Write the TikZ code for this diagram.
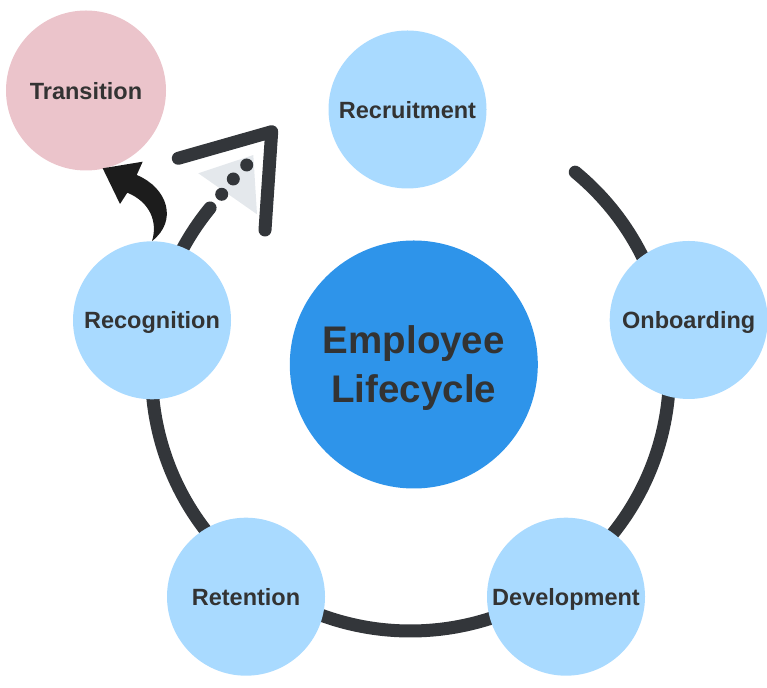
\documentclass[tikz,border=0pt]{standalone}
\usepackage{fontspec}
\setmainfont{Liberation Sans}
\usepackage{tikz}

\definecolor{azzurro}{HTML}{A9DAFF}
\definecolor{blu}{HTML}{2E94EA}
\definecolor{rosa}{HTML}{EBC4CB}
\definecolor{anello}{HTML}{33363A}
\definecolor{testo}{HTML}{333333}
\definecolor{freccia}{HTML}{1C1C1C}
\definecolor{grigio}{HTML}{E4E8EC}

\tikzset{
  fase/.style={circle, fill=azzurro, minimum size=158pt, inner sep=0pt, text=testo,
    text depth=0pt, font=\fontsize{23.5}{28}\selectfont\bfseries},
  tratto/.style={anello, line width=13pt, line cap=round, line join=round},
}

\begin{document}
\begin{tikzpicture}[x=1pt, y=1pt]
			\useasboundingbox (0, 0) rectangle (767, 687);
			% anello
			\coordinate (o) at (410.5, 315);
			\draw[tratto] (o) ++(50.5:259) arc[start angle=50.5, end angle=-219.3, radius=259];
			% punta
			\fill[grigio] (198.3, 513.7) -- (253.3, 532) -- (257, 472.7) -- cycle;
			\fill[anello] (221.7, 492.7) circle [radius=6.5];
			\fill[anello] (233.3, 508) circle [radius=6.5];
			\fill[anello] (246.7, 522) circle [radius=6.5];
			\draw[tratto] (178.3, 528.7) -- (271.7, 555.3) -- (265, 457);
			% fasi
			\node[fase] (recruit) at (407.5, 577.5) {Recruitment};
			\node[fase] (onboard) at (688.7, 367) {Onboarding};
			\node[fase] (develop) at (566, 90.3) {Development};
			\node[fase] (retain) at (246, 90.3) {Retention};
			\node[fase] (recog) at (152, 366.7) {Recognition};
			\node[fase, fill=rosa, minimum size=160pt] (trans) at (86, 596.5) {Transition};
			% centro
			\node[circle, fill=blu, minimum size=248pt, inner sep=0pt, text=testo, align=center, text depth=0pt,
			  font=\fontsize{38.5}{49}\selectfont\bfseries] (life) at (413.8, 322.5) {Employee\\Lifecycle};
			% freccia verso transition
			\coordinate (coda) at (recog.north);
			\fill[freccia] (102.7, 518.7) -- (142.7, 525.3) -- (136.7, 512)
			  .. controls (168, 499) and (178, 466) .. (coda)
			  .. controls (158, 465) and (150, 485) .. (127.3, 494.3) -- (120, 483) -- cycle;
		\end{tikzpicture}
\end{document}
